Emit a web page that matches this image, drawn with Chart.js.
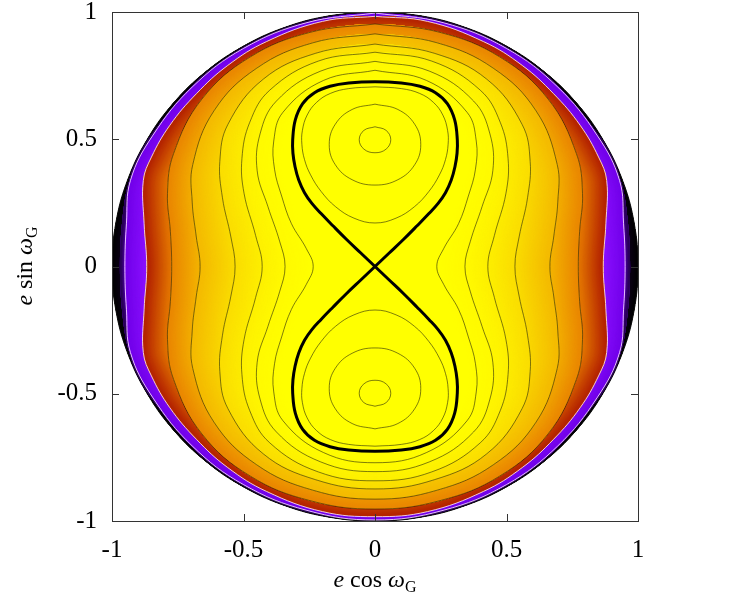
<!DOCTYPE html>
<html><head><meta charset="utf-8">
<script src="https://cdn.jsdelivr.net/npm/chart.js@4"></script>
<style>html,body{margin:0;padding:0;background:#fff;}</style>
</head><body>
<canvas id="c" width="750" height="600"></canvas>
<script>
// ---------- tick values / labels ----------
const xTicks = [-1, -0.5, 0, 0.5, 1];
const yTicks = [-1, -0.5, 0, 0.5, 1];
const xTickLabels = ['-1', '-0.5', '0', '0.5', '1'];
const yTickLabels = ['-1', '-0.5', '0', '0.5', '1'];

// ---------- read-off points (upper-left quadrant, from top x=0 to side y=0) ----------
const diskQ = [[0,1],[-0.174,0.985],[-0.342,0.94],[-0.5,0.866],[-0.643,0.766],[-0.766,0.643],[-0.866,0.5],[-0.94,0.342],[-0.985,0.174],[-1,0]];
const darkEdgeQ = [[0,0.999],[-0.34,0.938],[-0.64,0.762],[-0.862,0.5],[-0.935,0.335],[-0.962,0.17],[-0.97,0]];
const c1Q = [[0,0.996],[-0.26,0.958],[-0.5,0.857],[-0.695,0.705],[-0.845,0.515],[-0.93,0.338],[-0.945,0.17],[-0.951,0]];
const c2Q = [[0,0.983],[-0.2,0.963],[-0.412,0.884],[-0.56,0.79],[-0.679,0.679],[-0.78,0.555],[-0.85,0.43],[-0.881,0.338],[-0.878,0.17],[-0.868,0]];
const c3Q = [[0,0.953],[-0.247,0.92],[-0.475,0.823],[-0.658,0.658],[-0.766,0.443],[-0.789,0.287],[-0.778,0.137],[-0.773,0]];
const c4Q = [[0,0.914],[-0.236,0.879],[-0.45,0.779],[-0.612,0.612],[-0.693,0.4],[-0.695,0.253],[-0.68,0.12],[-0.665,0]];
const c5Q = [[0,0.874],[-0.225,0.838],[-0.425,0.736],[-0.559,0.559],[-0.59,0.413],[-0.58,0.27],[-0.548,0.116],[-0.532,0]];
const c6Q = [[0,0.842],[-0.216,0.807],[-0.4,0.693],[-0.476,0.567],[-0.506,0.424],[-0.498,0.288],[-0.454,0.122],[-0.429,0]];
const c7Q = [[0,0.806],[-0.206,0.768],[-0.375,0.65],[-0.437,0.521],[-0.448,0.376],[-0.407,0.235],[-0.362,0.097],[-0.342,0]];
const c8Q = [[0,0.771],[-0.196,0.731],[-0.35,0.606],[-0.385,0.493],[-0.382,0.382],[-0.355,0.277],[-0.318,0.169],[-0.261,0.07],[-0.235,0]];

// ---------- upper libration lobe, left half (top -> bottom) ----------
const sepH = [[0,0.726],[-0.1,0.721],[-0.171,0.708],[-0.23,0.683],[-0.275,0.64],[-0.303,0.576],[-0.313,0.497],[-0.312,0.445],[-0.304,0.392],[-0.29,0.34],[-0.268,0.29],[-0.24,0.248],[-0.205,0.208],[-0.16,0.16],[-0.108,0.106],[-0.054,0.053],[0,0]];
const lob1H = [[0,0.706],[-0.1,0.699],[-0.17,0.68],[-0.222,0.645],[-0.258,0.595],[-0.276,0.535],[-0.278,0.48],[-0.268,0.42],[-0.245,0.36],[-0.205,0.295],[-0.15,0.235],[-0.08,0.19],[0,0.171]];
const lob2H = [[0,0.638],[-0.087,0.617],[-0.151,0.559],[-0.174,0.479],[-0.151,0.4],[-0.087,0.341],[0,0.32]];
const lob3H = [[0,0.549],[-0.042,0.535],[-0.06,0.498],[-0.042,0.461],[0,0.447]];

// colour ramp across each band (outer edge colour -> inner edge colour), outermost band first
const bandOuterColors = ['#000000', '#1a0038', '#7000e8', '#b01c00', '#e98400', '#f4b800', '#fadc00', '#fdef00', '#fffa00'];
const bandInnerColors = ['#0a0014', '#5a00c0', '#8a10ff', '#e47800', '#f3b400', '#f9dc00', '#fdee00', '#fffa00', '#ffff00'];

// ---------- build symmetric curves from the read quadrants ----------
function quadLoop(Q){
  const ul = Q;
  const ll = Q.slice().reverse().slice(1).map(([x,y])=>[x,-y]);
  const lr = Q.slice(1).map(([x,y])=>[-x,-y]);
  const ur = Q.slice().reverse().slice(1).map(([x,y])=>[-x,y]);
  return ul.concat(ll, lr, ur);
}
function lobeLoop(H, s){
  const full = H.concat(H.slice().reverse().slice(1).map(([x,y])=>[-x,y]));
  return full.map(([x,y])=>[x, s*y]);
}
function sepLobe(H, s){
  const full = H.slice().reverse().concat(H.slice(1).map(([x,y])=>[-x,y]));
  return full.map(([x,y])=>[x, s*y]);
}
const pts = a => a.map(([x,y])=>({x, y}));

const bandQ = [diskQ, darkEdgeQ, c1Q, c2Q, c3Q, c4Q, c5Q, c6Q, c7Q, c8Q];
const diskLoop = quadLoop(diskQ);

function lineDS(arr, color, width){
  return {data: pts(arr), showLine: true, borderColor: color, borderWidth: width,
          pointRadius: 0, tension: 0.4, fill: false};
}
const thin = 'rgba(25,25,10,0.8)';
const light = 'rgba(250,225,255,0.95)';
const datasets = [
  lineDS(sepLobe(sepH, 1), '#000', 3),
  lineDS(sepLobe(sepH, -1), '#000', 3),
  lineDS(lobeLoop(lob1H, 1), thin, 0.7),
  lineDS(lobeLoop(lob1H, -1), thin, 0.7),
  lineDS(lobeLoop(lob2H, 1), thin, 0.7),
  lineDS(lobeLoop(lob2H, -1), thin, 0.7),
  lineDS(lobeLoop(lob3H, 1), thin, 0.7),
  lineDS(lobeLoop(lob3H, -1), thin, 0.7),
  lineDS(quadLoop(c8Q), thin, 0.7),
  lineDS(quadLoop(c7Q), thin, 0.7),
  lineDS(quadLoop(c6Q), thin, 0.7),
  lineDS(quadLoop(c5Q), thin, 0.7),
  lineDS(quadLoop(c4Q), thin, 0.7),
  lineDS(quadLoop(c3Q), thin, 0.7),
  lineDS(quadLoop(c2Q), light, 0.9),
  lineDS(quadLoop(c1Q), light, 0.9),
  lineDS(diskLoop, '#111', 1)
];

// ---------- plugins ----------
function hexRgb(h){ return [1,3,5].map(k => parseInt(h.substr(k, 2), 16)); }
function mix(a, b, t){ const A = hexRgb(a), B = hexRgb(b);
  return 'rgb(' + A.map((v, k) => Math.round(v + (B[k] - v) * t)).join(',') + ')'; }

const fillPlugin = {
  id: 'fills',
  beforeDatasetsDraw(chart){
    const {ctx} = chart; const xs = chart.scales.x, ys = chart.scales.y;
    const ax = xs.getPixelForValue(1) - xs.getPixelForValue(0);
    const pathOf = a => {
      const p = a.map(([x,y])=>[xs.getPixelForValue(x), ys.getPixelForValue(y)]);
      const n = p.length;
      ctx.beginPath(); ctx.moveTo(p[0][0], p[0][1]);
      for (let i = 0; i < n; i++){
        const p0 = p[(i-1+n)%n], p1 = p[i], p2 = p[(i+1)%n], p3 = p[(i+2)%n];
        ctx.bezierCurveTo(p1[0]+(p2[0]-p0[0])/6, p1[1]+(p2[1]-p0[1])/6,
                          p2[0]-(p3[0]-p1[0])/6, p2[1]-(p3[1]-p1[1])/6, p2[0], p2[1]);
      }
      ctx.closePath();
    };
    const side = Q => -Q[Q.length-1][0];
    ctx.save();
    ctx.lineJoin = 'round';
    for (let i = 0; i < bandQ.length - 1; i++){
      const Qo = bandQ[i], Qi = bandQ[i+1];
      const loop = quadLoop(Qo).slice(0, -1);
      const W = (side(Qo) - side(Qi)) * ax;
      ctx.save();
      pathOf(loop); ctx.clip();
      ctx.filter = i === 0 ? 'none' : 'blur(1.5px)';
      pathOf(loop); ctx.fillStyle = bandInnerColors[i]; ctx.fill();
      const n = 6;
      for (let j = 0; j < n; j++){
        ctx.strokeStyle = mix(bandOuterColors[i], bandInnerColors[i], (n - j - 0.5) / n);
        ctx.lineWidth = 2 * W * (n - j) / n;
        pathOf(loop); ctx.stroke();
      }
      ctx.restore();
    }
    ctx.restore();
  }
};
const framePlugin = {
  id: 'frame',
  afterDatasetsDraw(chart){
    const {ctx, chartArea: a} = chart; const xs = chart.scales.x, ys = chart.scales.y;
    ctx.save();
    ctx.strokeStyle = '#333'; ctx.lineWidth = 1;
    ctx.strokeRect(a.left + 0.5, a.top + 0.5, a.right - a.left, a.bottom - a.top);
    const L = 7;
    ctx.beginPath();
    xTicks.forEach(v => { const px = Math.round(xs.getPixelForValue(v)) + 0.5;
      ctx.moveTo(px, a.bottom); ctx.lineTo(px, a.bottom - L);
      ctx.moveTo(px, a.top); ctx.lineTo(px, a.top + L); });
    yTicks.forEach(v => { const py = Math.round(ys.getPixelForValue(v)) + 0.5;
      ctx.moveTo(a.left, py); ctx.lineTo(a.left + L, py);
      ctx.moveTo(a.right, py); ctx.lineTo(a.right - L, py); });
    ctx.stroke();
    ctx.restore();
  }
};
function drawMath(ctx, parts, cx, base){
  let w = 0;
  parts.forEach(p => { ctx.font = p[1]; w += ctx.measureText(p[0]).width; });
  let x = cx - w/2;
  parts.forEach(p => { ctx.font = p[1]; ctx.fillText(p[0], x, base + (p[2] || 0)); x += ctx.measureText(p[0]).width; });
}
const F = '"Liberation Serif", "DejaVu Serif", serif';
const titlePlugin = {
  id: 'titles',
  afterDraw(chart){
    const {ctx} = chart;
    ctx.save();
    ctx.fillStyle = '#000'; ctx.textAlign = 'left'; ctx.textBaseline = 'alphabetic';
    drawMath(ctx, [['e', 'italic 24px ' + F], [' cos ', '24px ' + F], ['ω', 'italic 24px ' + F], ['G', '16px ' + F, 5]], 375, 587);
    ctx.translate(32, 266); ctx.rotate(-Math.PI/2);
    drawMath(ctx, [['e', 'italic 24px ' + F], [' sin ', '24px ' + F], ['ω', 'italic 24px ' + F], ['G', '16px ' + F, 5]], 0, 0);
    ctx.restore();
  }
};

new Chart(document.getElementById('c'), {
  type: 'scatter',
  data: {datasets},
  options: {
    responsive: false, animation: false, devicePixelRatio: 1,
    layout: {padding: {top: 12, right: 112, left: 0, bottom: 0}},
    plugins: {legend: {display: false}, tooltip: {enabled: false}},
    scales: {
      x: {type: 'linear', min: -1, max: 1,
          afterBuildTicks: s => { s.ticks = xTicks.map(v => ({value: v})); },
          afterFit: s => { s.height = 79; s.paddingLeft = 0; s.paddingRight = 0; },
          grid: {display: false, drawTicks: false}, border: {display: false},
          ticks: {autoSkip: false, maxRotation: 0, padding: 14, color: '#000',
                  font: {family: F, size: 25},
                  callback: v => xTickLabels[xTicks.indexOf(v)]}},
      y: {type: 'linear', min: -1, max: 1,
          afterBuildTicks: s => { s.ticks = yTicks.map(v => ({value: v})); },
          afterFit: s => { s.width = 112; s.paddingTop = 0; s.paddingBottom = 0; },
          grid: {display: false, drawTicks: false}, border: {display: false},
          ticks: {autoSkip: false, padding: 15, color: '#000',
                  font: {family: F, size: 25},
                  callback: v => yTickLabels[yTicks.indexOf(v)]}}
    }
  },
  plugins: [fillPlugin, framePlugin, titlePlugin]
});
</script>
</body></html>
